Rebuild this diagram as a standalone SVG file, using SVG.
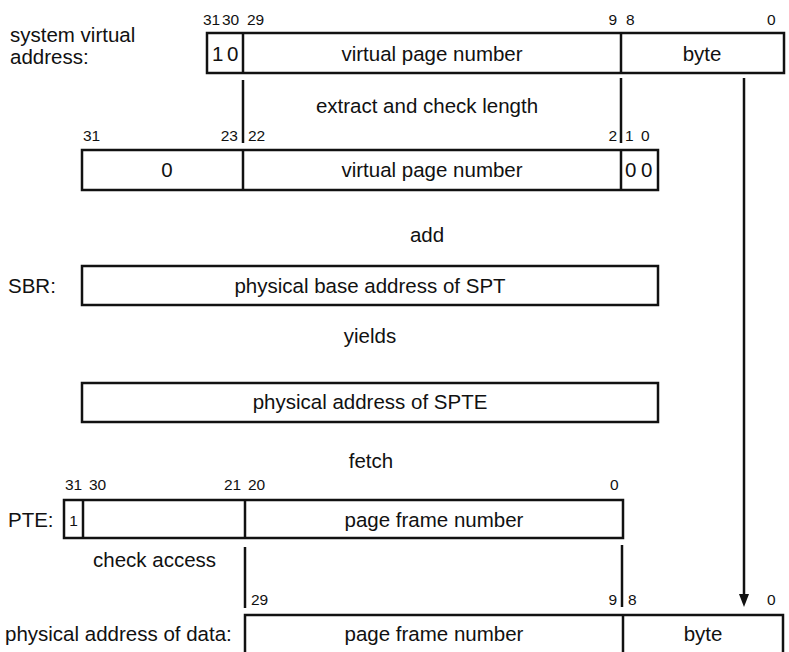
<svg xmlns="http://www.w3.org/2000/svg" width="789" height="652" viewBox="0 0 789 652">
<defs>
<style>
text{font-family:"Liberation Sans",Arial,sans-serif;fill:#111}
.l{font-size:20.5px}
.n{font-size:15.5px}
.c{text-anchor:middle}
.e{text-anchor:end}
.box{fill:#fff;stroke:#111;stroke-width:2.5}
.ln{stroke:#111;stroke-width:2.5;fill:none}
</style>
</defs>
<rect width="789" height="652" fill="#fff"/>

<g id="connectors">
<line class="ln" x1="243" y1="80" x2="243" y2="143"/>
<line class="ln" x1="621" y1="78" x2="621" y2="143"/>
<line class="ln" x1="744" y1="78" x2="744" y2="594"/>
<path d="M739,594 L749,594 L744,607 Z" fill="#111"/>
<line class="ln" x1="245" y1="547" x2="245" y2="608"/>
<line class="ln" x1="622" y1="545" x2="622" y2="607"/>
</g>

<g id="sva">
<text class="l" x="10" y="42">system virtual</text>
<text class="l" x="10" y="64">address:</text>
<text class="n" x="203" y="25">31</text>
<text class="n" x="222" y="25">30</text>
<text class="n" x="247" y="25">29</text>
<text class="n e" x="617" y="25">9</text>
<text class="n" x="626" y="25">8</text>
<text class="n" x="767" y="25">0</text>
<rect class="box" x="207" y="33" width="577" height="40"/>
<line class="ln" x1="243" y1="33" x2="243" y2="73"/>
<line class="ln" x1="621" y1="33" x2="621" y2="73"/>
<text class="l" x="212" y="61">1</text>
<text class="l" x="227" y="61">0</text>
<text class="l c" x="432" y="61">virtual page number</text>
<text class="l c" x="702" y="61">byte</text>
</g>

<text class="l c" x="427" y="113">extract and check length</text>

<g id="vpn">
<text class="n" x="83" y="141">31</text>
<text class="n e" x="238" y="141">23</text>
<text class="n" x="248" y="141">22</text>
<text class="n e" x="617" y="141">2</text>
<text class="n" x="625" y="141">1</text>
<text class="n" x="641" y="141">0</text>
<rect class="box" x="82" y="150" width="576" height="40"/>
<line class="ln" x1="243" y1="150" x2="243" y2="190"/>
<line class="ln" x1="621" y1="150" x2="621" y2="190"/>
<text class="l c" x="167" y="177">0</text>
<text class="l c" x="432" y="177">virtual page number</text>
<text class="l" x="625" y="177">0</text>
<text class="l" x="641" y="177">0</text>
</g>

<text class="l c" x="427" y="242">add</text>

<g id="sbr">
<text class="l" x="8" y="293">SBR:</text>
<rect class="box" x="82" y="266" width="576" height="39"/>
<text class="l c" x="370" y="293">physical base address of SPT</text>
</g>

<text class="l c" x="370" y="343">yields</text>

<g id="spte">
<rect class="box" x="82" y="383" width="576" height="39"/>
<text class="l c" x="370" y="409">physical address of SPTE</text>
</g>

<text class="l c" x="371" y="468">fetch</text>

<g id="pte">
<text class="n" x="65" y="490">31</text>
<text class="n" x="89" y="490">30</text>
<text class="n" x="224" y="490">21</text>
<text class="n" x="248" y="490">20</text>
<text class="n" x="610" y="490">0</text>
<text class="l" x="8" y="527">PTE:</text>
<rect class="box" x="64" y="500" width="559" height="38"/>
<line class="ln" x1="83" y1="500" x2="83" y2="538"/>
<line class="ln" x1="245" y1="500" x2="245" y2="538"/>
<text class="n c" x="73.5" y="526">1</text>
<text class="l c" x="434" y="527">page frame number</text>
</g>

<text class="l" x="93" y="567">check access</text>

<g id="pad">
<text class="n" x="251" y="605">29</text>
<text class="n e" x="617" y="605">9</text>
<text class="n" x="628" y="605">8</text>
<text class="n" x="767" y="605">0</text>
<text class="l" x="5" y="641">physical address of data:</text>
<rect class="box" x="245" y="615" width="538" height="45"/>
<line class="ln" x1="623" y1="615" x2="623" y2="660"/>
<text class="l c" x="434" y="641">page frame number</text>
<text class="l c" x="703" y="641">byte</text>
</g>
</svg>
